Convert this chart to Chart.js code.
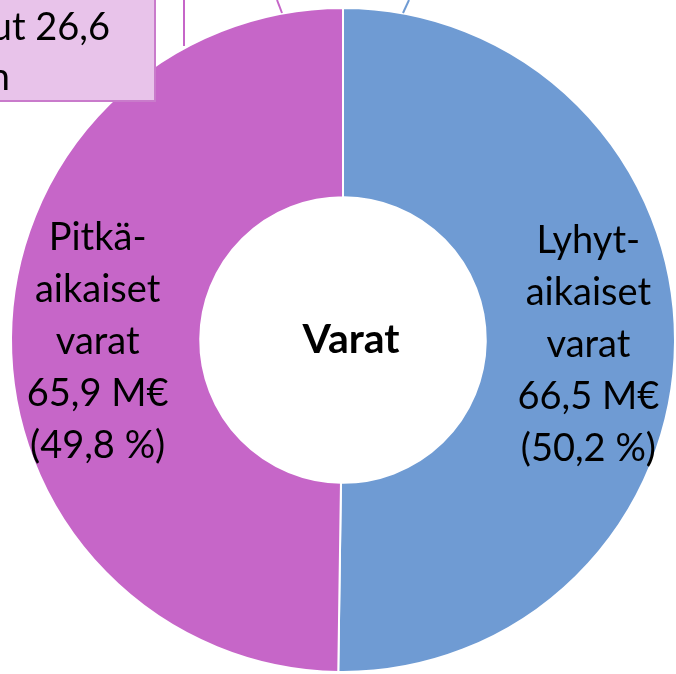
<!DOCTYPE html>
<html>
<head>
<meta charset="utf-8">
<script src="https://cdn.jsdelivr.net/npm/chart.js@4"></script>
<style>
  html, body { margin: 0; padding: 0; background: #fff; overflow: hidden; }
  #wrap { width: 676px; height: 674px; }
</style>
</head>
<body>
<div id="wrap"><canvas id="myChart"></canvas></div>
<script>
const categories = ['Lyhytaikaiset varat', 'Pitkäaikaiset varat'];
const values = [66.5, 65.9];
const sliceLabels = [
    ['Lyhyt-', 'aikaiset', 'varat', '66,5 M€', '(50,2 %)'],
    ['Pitkä-', 'aikaiset', 'varat', '65,9 M€', '(49,8 %)']
];
const centerTitle = 'Varat';
const calloutLines = ['ut 26,6', 'n'];

const fontFam = 'Lato, "Open Sans", sans-serif';

const decor = {
    id: 'decor',
    afterDatasetsDraw(chart) {
        const ctx = chart.ctx;
        const meta = chart.getDatasetMeta(0);
        ctx.save();
        // slice labels
        ctx.fillStyle = '#000';
        ctx.textAlign = 'center';
        ctx.textBaseline = 'middle';
        ctx.font = '38px ' + fontFam;
        meta.data.forEach((arc, i) => {
            const p = arc.getProps(['x', 'y', 'startAngle', 'endAngle', 'innerRadius', 'outerRadius'], true);
            const mid = (p.startAngle + p.endAngle) / 2;
            const r = (p.innerRadius + p.outerRadius) / 2 + 8;
            const cx = p.x + Math.cos(mid) * r;
            const cy = p.y + Math.sin(mid) * r;
            const lines = sliceLabels[i];
            const lh = 52;
            lines.forEach((t, j) => {
                ctx.fillText(t, cx, cy + 3 + (j - (lines.length - 1) / 2) * lh);
            });
        });
        // centre title
        const a = meta.data[0];
        ctx.font = 'bold 41px ' + fontFam;
        ctx.fillText(centerTitle, a.x + 8, a.y);

        // leader lines from neighbouring chart
        ctx.lineWidth = 2;
        ctx.strokeStyle = '#C666C8';
        ctx.beginPath(); ctx.moveTo(184, 0); ctx.lineTo(184, 46); ctx.stroke();
        ctx.beginPath(); ctx.moveTo(277, 0); ctx.lineTo(282, 13); ctx.stroke();
        ctx.strokeStyle = '#6F9BD3';
        ctx.beginPath(); ctx.moveTo(409, 0); ctx.lineTo(403, 13); ctx.stroke();

        // cut-off callout box
        ctx.fillStyle = '#E8C3EA';
        ctx.strokeStyle = '#C97BCB';
        ctx.fillRect(-5, -5, 160, 106);
        ctx.strokeRect(-5, -5, 160, 106);
        ctx.fillStyle = '#000';
        ctx.textAlign = 'right';
        ctx.font = '38px ' + fontFam;
        ctx.fillText(calloutLines[0], 110, 28);
        ctx.fillText(calloutLines[1], 10, 78);
        ctx.restore();
    }
};

const ctx = document.getElementById('myChart').getContext('2d');
const myChart = new Chart(ctx, {
    type: 'doughnut',
    data: {
        labels: categories,
        datasets: [{
            data: values,
            backgroundColor: ['#6F9BD3', '#C666C8'],
            borderColor: '#ffffff',
            borderWidth: 2
        }]
    },
    options: {
        responsive: true,
        maintainAspectRatio: false,
        animation: false,
        cutout: '43%',
        layout: {
            padding: { left: 10, top: 7, right: 0, bottom: 1 }
        },
        plugins: {
            legend: { display: false },
            tooltip: { enabled: false }
        }
    },
    plugins: [decor]
});
</script>
</body>
</html>
